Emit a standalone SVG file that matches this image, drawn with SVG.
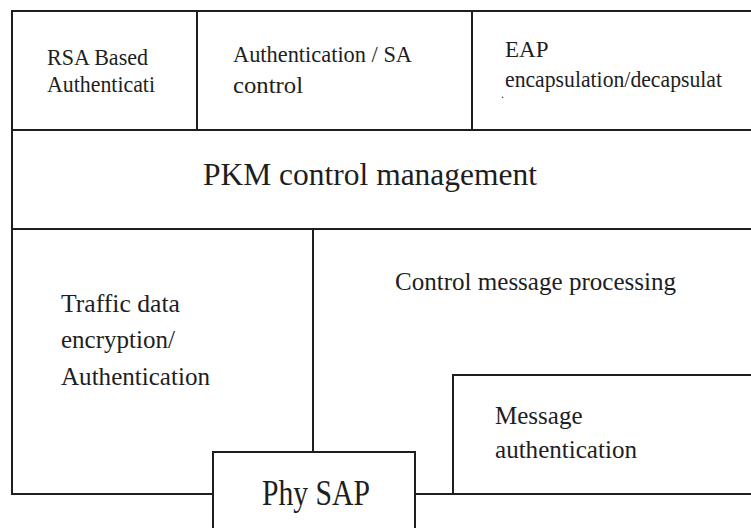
<svg xmlns="http://www.w3.org/2000/svg" width="751" height="528" viewBox="0 0 751 528">
<style>
.ln{stroke:#1e1e1e;stroke-width:2;fill:none;stroke-linecap:square}
.t{font-family:"Liberation Serif","Times New Roman",serif;fill:#1e1e1e}
.s{font-size:23px}
.m{font-size:25px}
</style>
<rect width="751" height="528" fill="#ffffff"/>
<g id="connectors">
<path class="ln" d="M12 11 H760 M12 11 V494 M12 130 H760 M12 229 H760 M12 494 H213 M415 494 H760"/>
</g>
<g id="rsa">
<path class="ln" d="M197 11 V130"/>
<text class="t s" x="47" y="65" textLength="101" lengthAdjust="spacingAndGlyphs">RSA Based</text>
<text class="t s" x="47" y="92" textLength="108" lengthAdjust="spacingAndGlyphs">Authenticati</text>
</g>
<g id="authsa">
<path class="ln" d="M472 11 V130"/>
<text class="t s" x="233" y="62" textLength="179" lengthAdjust="spacingAndGlyphs">Authentication / SA</text>
<text class="t s" x="233" y="93" textLength="70" lengthAdjust="spacingAndGlyphs">control</text>
</g>
<g id="eap">
<text class="t s" x="505" y="57">EAP</text>
<text class="t s" x="505" y="87" textLength="217" lengthAdjust="spacingAndGlyphs">encapsulation/decapsulat</text>
<text class="t" x="501" y="98" font-size="12">.</text>
</g>
<g id="pkm">
<text class="t" font-size="32.5" x="203" y="185" textLength="334" lengthAdjust="spacingAndGlyphs">PKM control management</text>
</g>
<g id="traffic">
<path class="ln" d="M313 229 V452"/>
<text class="t m" x="61" y="312" textLength="119" lengthAdjust="spacingAndGlyphs">Traffic data</text>
<text class="t m" x="61" y="348">encryption/</text>
<text class="t m" x="61" y="385" textLength="149" lengthAdjust="spacingAndGlyphs">Authentication</text>
</g>
<g id="control">
<text class="t m" x="395" y="290" textLength="281" lengthAdjust="spacingAndGlyphs">Control message processing</text>
</g>
<g id="msgauth">
<path class="ln" d="M760 375 H453 V494"/>
<text class="t m" x="495" y="424">Message</text>
<text class="t m" x="495" y="458" textLength="142" lengthAdjust="spacingAndGlyphs">authentication</text>
</g>
<g id="physap">
<path class="ln" d="M213 540 V452 H415 V540"/>
<text class="t" font-size="36" x="262" y="505" textLength="108" lengthAdjust="spacingAndGlyphs">Phy SAP</text>
</g>
</svg>
